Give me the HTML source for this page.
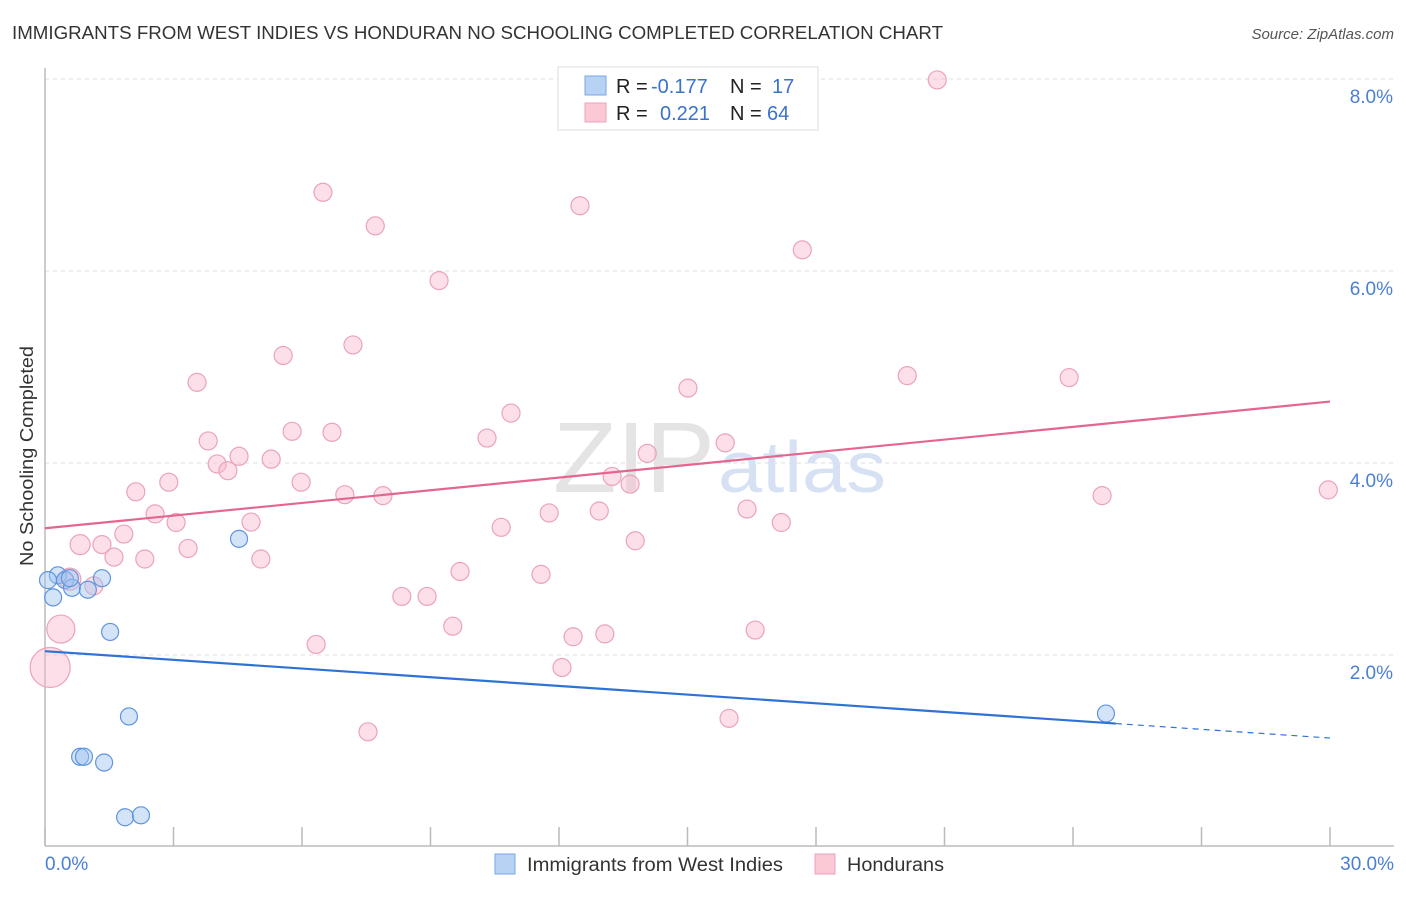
<!DOCTYPE html>
<html><head><meta charset="utf-8"><style>
body{margin:0;background:#fff;font-family:"Liberation Sans",sans-serif;}
svg text{font-family:"Liberation Sans",sans-serif;}
</style></head><body>
<svg id="c" width="1406" height="892" xmlns="http://www.w3.org/2000/svg">
<text x="12" y="39" font-size="18" fill="#333" textLength="931" lengthAdjust="spacingAndGlyphs">IMMIGRANTS FROM WEST INDIES VS HONDURAN NO SCHOOLING COMPLETED CORRELATION CHART</text>
<text x="1394" y="39" font-size="15" fill="#555" font-style="italic" text-anchor="end">Source: ZipAtlas.com</text>
<text x="33" y="456" font-size="18" fill="#333" text-anchor="middle" textLength="220" lengthAdjust="spacingAndGlyphs" transform="rotate(-90 33 456)">No Schooling Completed</text>
<g id="grid"></g>
<text x="553" y="492" font-size="100" fill="#e4e4e4" font-family="Liberation Serif" textLength="162" lengthAdjust="spacingAndGlyphs">ZIP</text>
<text x="718" y="492" font-size="72" fill="#d6e2f4" textLength="168" lengthAdjust="spacingAndGlyphs">atlas</text>
<g id="axes"></g>
<g id="pts"></g>
<g id="trends"></g>
<g>
<rect x="558" y="67" width="260" height="63" fill="#fff" stroke="#ddd"/>
<rect x="585" y="76" width="21" height="19" fill="#b8d2f4" stroke="#7aa6e6"/>
<rect x="585" y="103" width="21" height="19" fill="#fbc8d6" stroke="#eca2ba"/>
<text x="616" y="93" font-size="20" fill="#222">R = <tspan x="651" fill="#3a72cc">-0.177</tspan><tspan x="730">N = </tspan><tspan x="772" fill="#3a72cc">17</tspan></text>
<text x="616" y="120" font-size="20" fill="#222">R = <tspan x="660" fill="#3a72cc">0.221</tspan><tspan x="730">N = </tspan><tspan x="767" fill="#3a72cc">64</tspan></text>
</g>
<g>
<rect x="495" y="854" width="20" height="20" fill="#b8d2f4" stroke="#7aa6e6"/>
<text x="527" y="871" font-size="19" fill="#333" textLength="256" lengthAdjust="spacingAndGlyphs">Immigrants from West Indies</text>
<rect x="815" y="854" width="20" height="20" fill="#fbc8d6" stroke="#eca2ba"/>
<text x="847" y="871" font-size="19" fill="#333" textLength="97" lengthAdjust="spacingAndGlyphs">Hondurans</text>
</g>
</svg>
<script>
const xTicks=[0,3,6,9,12,15,18,21,24,27,30];
const yTicks=[2,4,6,8];
const yTickLabels=["2.0%","4.0%","6.0%","8.0%"];
const xEndLabels=["0.0%","30.0%"];
const blueX=[0.19,0.30,0.47,0.63,1.00,1.33,1.52,1.96,0.82,0.91,1.38,1.87,2.24,4.53,24.77,0.07,0.58];
const blueY=[2.60,2.83,2.78,2.70,2.68,2.80,2.24,1.36,0.94,0.94,0.88,0.31,0.33,3.21,1.39,2.78,2.80];
const pinkX=[20.83,6.49,7.71,12.49,17.68,9.20,5.56,7.19,3.55,20.13,23.91,15.01,10.88,3.81,5.77,6.70,10.32,15.88,4.53,5.28,4.02,4.27,14.06,13.24,13.66,2.89,5.98,2.12,7.00,7.89,24.68,29.96,2.57,3.06,11.77,12.94,16.39,4.81,10.65,17.19,1.84,0.82,1.33,3.34,13.78,1.61,2.33,5.04,9.69,11.58,0.58,1.14,8.33,8.92,6.33,9.52,12.33,13.07,16.58,12.07,7.54,15.97,0.37,0.12];
const pinkY=[7.99,6.82,6.47,6.68,6.22,5.90,5.12,5.23,4.84,4.91,4.89,4.78,4.52,4.23,4.33,4.32,4.26,4.21,4.07,4.04,3.99,3.92,4.10,3.86,3.78,3.80,3.80,3.70,3.67,3.66,3.66,3.72,3.47,3.38,3.48,3.50,3.52,3.385,3.33,3.38,3.26,3.15,3.15,3.11,3.19,3.02,3.00,3.00,2.87,2.84,2.79,2.72,2.61,2.61,2.11,2.30,2.19,2.22,2.26,1.87,1.20,1.34,2.27,1.87];
const pinkR=[9,9,9,9,9,9,9,9,9,9,9,9,9,9,9,9,9,9,9,9,9,9,9,9,9,9,9,9,9,9,9,9,9,9,9,9,9,9,9,9,9,10,9,9,9,9,9,9,9,9,11,9,9,9,9,9,9,9,9,9,9,9,14,20];
const pinkTrend=[3.32,4.64];
const blueTrend=[2.04,1.135];
const blueSolidEnd=25;
const NS="http://www.w3.org/2000/svg";
const X=v=>45+v*42.833, Y=v=>847-96*v;
function mk(t,p,a){const e=document.createElementNS(NS,t);for(const k in a)e.setAttribute(k,a[k]);p.appendChild(e);return e;}
const g=document.getElementById('grid'),ax=document.getElementById('axes');
yTicks.forEach((t,i)=>{
 const l=mk('line',g,{x1:45,x2:1394,y1:Y(t),y2:Y(t),stroke:'#ddd','stroke-dasharray':'4,4'});
 
 
 const tx=mk('text',ax,{x:1393,y:Y(t)+24,'font-size':19,fill:'#4a7fd4','text-anchor':'end'});tx.textContent=yTickLabels[i];
 
 
});
const tl=mk('line',g,{x1:45,x2:1394,y1:79,y2:79,stroke:'#ddd','stroke-dasharray':'4,4'});


const ya=mk('line',ax,{x1:45,x2:45,y1:68,y2:846,stroke:'#bbb','stroke-width':1.5});


const xa=mk('line',ax,{x1:45,x2:1394,y1:846,y2:846,stroke:'#bbb','stroke-width':1.5});


xTicks.forEach(t=>{const l=mk('line',ax,{x1:X(t),x2:X(t),y1:827,y2:846,stroke:'#bbb','stroke-width':1.5});
 
 });
const x0=mk('text',ax,{x:45,y:870,'font-size':19,fill:'#4a7fd4'});x0.textContent=xEndLabels[0];


const x1=mk('text',ax,{x:1394,y:870,'font-size':19,fill:'#4a7fd4','text-anchor':'end'});x1.textContent=xEndLabels[1];


const p=document.getElementById('pts');
pinkX.forEach((v,i)=>{const c=mk('circle',p,{cx:X(v),cy:Y(pinkY[i]),r:pinkR[i],fill:'rgba(248,185,205,0.45)',stroke:'#eaa3bb','stroke-width':1.2});
 
 });
blueX.forEach((v,i)=>{const c=mk('circle',p,{cx:X(v),cy:Y(blueY[i]),r:8.5,fill:'rgba(160,195,240,0.45)',stroke:'#5f95de','stroke-width':1.2});
 
 });
const tr=document.getElementById('trends');
const pl=mk('line',tr,{x1:X(0),y1:Y(pinkTrend[0]),x2:X(30),y2:Y(pinkTrend[1]),stroke:'#e4668f','stroke-width':2.2});


const by=v=>blueTrend[0]+(blueTrend[1]-blueTrend[0])*v/30;
const bl=mk('line',tr,{x1:X(0),y1:Y(by(0)),x2:X(blueSolidEnd),y2:Y(by(blueSolidEnd)),stroke:'#2f72d6','stroke-width':2.2});


const bd=mk('line',tr,{x1:X(blueSolidEnd),y1:Y(by(blueSolidEnd)),x2:X(30),y2:Y(by(30)),stroke:'#2f72d6','stroke-width':1.2,'stroke-dasharray':'6,5'});


</script>
</body></html>
